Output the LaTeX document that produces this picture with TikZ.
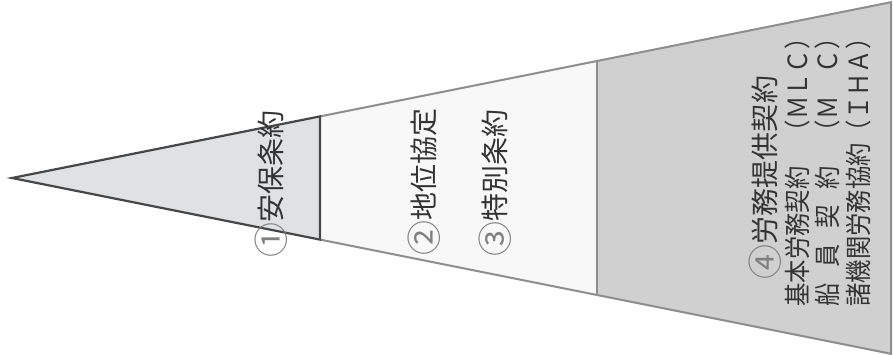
\documentclass[tikz,border=0pt]{standalone}
\usepackage{fontspec}
\newfontfamily\jpfont{Noto Sans CJK JP}
\usepackage{tikz}
\usetikzlibrary{positioning}
\usepackage{xcolor}
\definecolor{edgedark}{HTML}{474747}
\definecolor{edgelight}{HTML}{8E8E8E}
\definecolor{sectone}{HTML}{E0E1E3}
\definecolor{sectwo}{HTML}{F8F8F8}
\definecolor{secthree}{HTML}{D0D0D0}
\definecolor{inkdark}{HTML}{333333}
\definecolor{inknum}{HTML}{808080}
\newcommand{\circnum}[1]{\textcolor{inknum}{\raisebox{-0.1em}{\scalebox{1.25}{#1}}}}

\begin{document}
\begin{tikzpicture}[x=1pt,y=-1pt,
  heading/.style={rotate=90,inner sep=0pt,text=inkdark,font=\jpfont\fontsize{28}{28}\selectfont},
  entry/.style={rotate=90,inner sep=0pt,text=inkdark,font=\jpfont\fontsize{26.5}{26.5}\selectfont}]
\useasboundingbox (0,0) rectangle (893,355);
% corners of the wedge
\coordinate (apex) at (12,178);
\coordinate (t1) at (320,116.4); \coordinate (b1) at (320,239.6);
\coordinate (t2) at (597,61);    \coordinate (b2) at (597,295);
\coordinate (t3) at (891,2.2);   \coordinate (b3) at (891,353.8);
% sections
\fill[secthree] (t2) -- (t3) -- (b3) -- (b2) -- cycle;
\fill[sectwo] (t1) -- (t2) -- (b2) -- (b1) -- cycle;
\draw[edgelight,line width=2pt] (t1) -- (t3) -- (b3) -- (b1);
\draw[edgelight,line width=2pt] (t2) -- (b2);
\draw[edgedark,fill=sectone,line width=2.2pt] (apex) -- (t1) -- (b1) -- cycle;
% labels
\node[heading] (anpo) at (271,184) {\circnum{①}安保条約};
\node[heading] (chii) at (424,181.5) {\circnum{②}地位協定};
\node[heading] (tokubetsu) at (495,182.5) {\circnum{③}特別条約};
\node[heading] (roumu) at (765,177.5) {\circnum{④}労務提供契約};
\node[entry] (mlc) at (797,177) {\scalebox{0.88}[1]{\makebox[6em][s]{基\hfill 本\hfill 労\hfill 務\hfill 契\hfill 約}　\makebox[4.1em][s]{（\hfill Ｍ\hfill Ｌ\hfill Ｃ\hfill ）}}};
\node[entry] (mc) at (827,177) {\scalebox{0.88}[1]{\makebox[6em][s]{船\hfill 員\hfill 契\hfill 約}　\makebox[4.1em][s]{（\hfill Ｍ\hfill 　\hfill Ｃ\hfill ）}}};
\node[entry] (iha) at (858,177) {\scalebox{0.88}[1]{\makebox[7em][s]{諸\hfill 機\hfill 関\hfill 労\hfill 務\hfill 協\hfill 約}\makebox[4.1em][s]{（\hfill Ｉ\hfill Ｈ\hfill Ａ\hfill ）}}};
\end{tikzpicture}
\end{document}
